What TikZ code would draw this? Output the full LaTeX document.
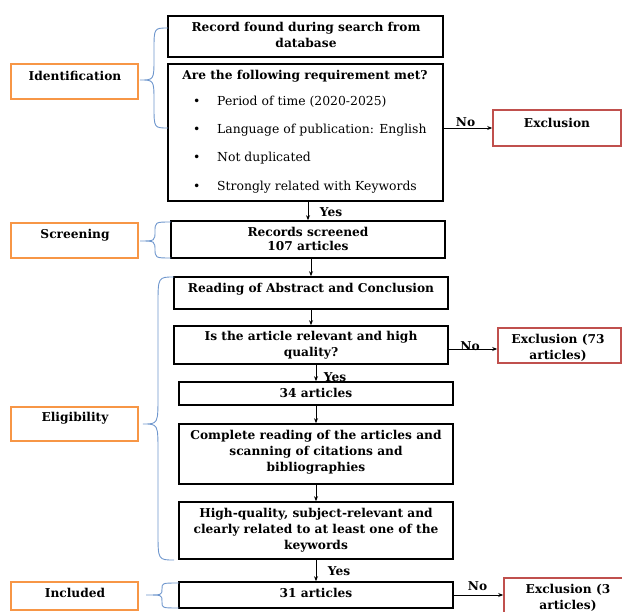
\documentclass[tikz,border=0pt]{standalone}
\usepackage{fontspec}
\setmainfont{DejaVu Serif}
\usetikzlibrary{arrows.meta,calc}
\definecolor{obord}{RGB}{247,150,70}
\definecolor{rbord}{RGB}{192,80,77}
\definecolor{bbrace}{RGB}{110,150,205}
\tikzset{
  blk/.style={draw=black, line width=1.6pt, inner sep=0pt},
  obox/.style={draw=obord, line width=1.6pt, inner sep=0pt, minimum width=127pt},
  rbox/.style={draw=rbord, line width=1.6pt, inner sep=0pt},
  txt/.style={inner sep=0pt, align=center, font=\fontsize{12.2}{16}\selectfont\bfseries},
  rtxt/.style={inner sep=0pt, anchor=base west, font=\fontsize{12.4}{16}\selectfont},
  lbl/.style={inner sep=0pt, font=\fontsize{12.2}{14}\selectfont\bfseries},
  arr/.style={draw=black, line width=0.8pt, -{Stealth[length=5pt,width=4pt]}},
  bracestyle/.style={draw=bbrace, line width=0.9pt}
}
\newcommand\mybrace[7]{% xr, top, bottom, xtip, ytip, xmid, k
  \draw[bracestyle] (#1,#2) .. controls (#6,#2) and (#6,#2) .. (#6,{#2+#7})
    -- (#6,{#5-#7}) .. controls (#6,#5) and (#6,#5) .. (#4,#5)
    .. controls (#6,#5) and (#6,#5) .. (#6,{#5+#7})
    -- (#6,{#3-#7}) .. controls (#6,#3) and (#6,#3) .. (#1,#3);
}
\begin{document}
\begin{tikzpicture}[x=1pt,y=-1pt]
\useasboundingbox (0,0) rectangle (622,612);
\clip (0,0) rectangle (622,612);
% main boxes
\node[blk, minimum width=275pt, minimum height=41pt] (b1) at (305.5,36.5) {};
\node[blk, minimum width=275pt, minimum height=137pt] (b2) at (305.5,132.5) {};
\node[rbox, minimum width=128pt, minimum height=36pt] (ex1) at (557,128) {};
\node[blk, minimum width=274pt, minimum height=37pt] (b3) at (308,239.5) {};
\node[blk, minimum width=274pt, minimum height=32pt] (b4) at (311,293) {};
\node[blk, minimum width=274pt, minimum height=38pt] (b5) at (311,345) {};
\node[rbox, minimum width=123pt, minimum height=35pt] (ex2) at (559.5,345.5) {};
\node[blk, minimum width=274pt, minimum height=23pt] (b6) at (316,393.5) {};
\node[blk, minimum width=274pt, minimum height=60pt] (b7) at (316,454) {};
\node[blk, minimum width=274pt, minimum height=57pt] (b8) at (316,530.5) {};
\node[blk, minimum width=274pt, minimum height=26pt] (b9) at (316,595) {};
\node[rbox, minimum width=126pt, minimum height=47pt] (ex3) at (567,601.5) {};
% stage boxes
\node[obox, minimum height=35pt] (sid) at (74.5,81.5) {};
\node[obox, minimum height=35pt] (sscr) at (74.5,240.5) {};
\node[obox, minimum height=34pt] (sel) at (74.5,424) {};
\node[obox, minimum height=28pt] (sinc) at (74.5,596) {};
% texts
\node[txt] (t1) at (306,35) {Record found during search from\\database};
\node[txt] (t2) at (305,76) {Are the following requirement met?};
\foreach \yy/\tt [count=\i] in {102/Period of time (2020-2025),130/Language of publication: English,158/Not duplicated,187/Strongly related with Keywords}{
  \node[rtxt] (bu\i) at (193,{\yy+4}) {•};
  \node[rtxt] (bt\i) at (217,{\yy+4}) {\tt};
}
\node[txt] (tex1) at (557,123) {Exclusion};
\node[txt, font=\fontsize{12.2}{14}\selectfont\bfseries] (t3) at (308,239) {Records screened\\107 articles};
\node[txt] (t4) at (311,289) {Reading of Abstract and Conclusion};
\node[txt] (t5) at (311,345) {Is the article relevant and high\\quality?};
\node[txt] (tex2) at (558,348) {Exclusion (73\\articles)};
\node[txt] (t6) at (316,393) {34 articles};
\node[txt] (t7) at (316,452) {Complete reading of the articles and\\scanning of citations and\\bibliographies};
\node[txt] (t8) at (316,530) {High-quality, subject-relevant and\\clearly related to at least one of the\\keywords};
\node[txt] (t9) at (316,593) {31 articles};
\node[txt] (tex3) at (568,597.5) {Exclusion (3\\articles)};
\node[txt] (tid) at (75,76) {Identification};
\node[txt] (tscr) at (75,235) {Screening};
\node[txt] (tel) at (75,418) {Eligibility};
\node[txt] (tinc) at (75,593) {Included};
% arrows
\draw[arr] (b2.south -| b3.north) -- (b3.north);
\draw[arr] (b3.south -| b4.north) -- (b4.north);
\draw[arr] (b4.south) -- (b5.north);
\draw[arr] (b5.south -| b6.north) -- (b6.north);
\draw[arr] (b6.south) -- (b7.north);
\draw[arr] (b7.south) -- (b8.north);
\draw[arr] (b8.south) -- (b9.north);
\draw[arr] (ex1.west -| b2.east) -- (ex1.west);
\coordinate (n5) at ([yshift=-4pt]b5.east);
\draw[arr] (n5) -- (n5 -| ex2.west);
\draw[arr] (b9.east) -- (b9.east -| ex3.west);
% labels
\node[lbl] (y1) at (331,212) {Yes};
\node[lbl] (y2) at (335,377) {Yes};
\node[lbl] (y3) at (339,571) {Yes};
\node[lbl] (n1) at (465.5,122) {No};
\node[lbl] (n2) at (470,346) {No};
\node[lbl] (n3) at (477.5,586) {No};
% braces
\mybrace{168}{28}{128}{140}{80}{154}{22}
\mybrace{171}{222}{258}{140}{241}{155}{10}
\mybrace{174}{277}{560}{143}{424}{158}{28}
\mybrace{179}{583}{608}{146}{595}{162}{6}
\end{tikzpicture}
\end{document}
